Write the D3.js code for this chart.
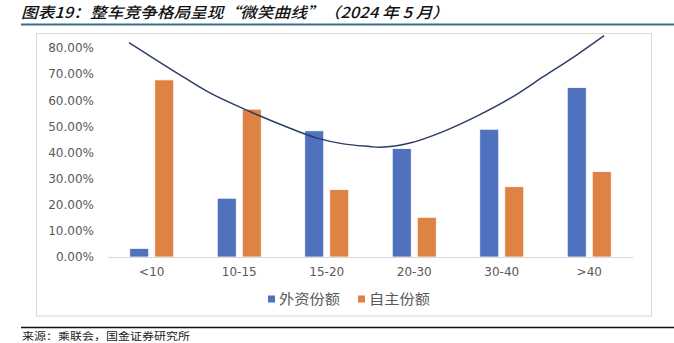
<!DOCTYPE html>
<html><head><meta charset="utf-8">
<script src="https://cdn.jsdelivr.net/npm/d3@7"></script>
<style>
html,body{margin:0;padding:0;background:#fff;overflow:hidden;}
svg{display:block;}
</style></head>
<body>
<svg id="c" width="674" height="343"></svg>
<script>
// ---- data ----
const categories = ["<10", "10-15", "15-20", "20-30", "30-40", ">40"];
const seriesNames = ["外资份额", "自主份额"];
const foreignShare = [0.033, 0.225, 0.483, 0.415, 0.489, 0.649];
const domesticShare = [0.678, 0.566, 0.258, 0.152, 0.269, 0.327];
const yTicks = [0, 0.1, 0.2, 0.3, 0.4, 0.5, 0.6, 0.7, 0.8];
// "smile curve" points: position in category index units, value
const curvePos = [-0.26, 0.29, 0.67, 1.12, 1.58, 1.89, 2.19, 2.49, 2.61, 2.95, 3.33, 3.71, 4.10, 4.48, 4.86, 5.17];
const curveVal = [0.821, 0.704, 0.627, 0.557, 0.493, 0.455, 0.433, 0.423, 0.420, 0.436, 0.480, 0.538, 0.608, 0.691, 0.774, 0.847];
const titleText = "图表19：整车竞争格局呈现“微笑曲线”（2024 年 5 月）";
const sourceText = "来源：乘联会，国金证券研究所";

const colors = ["#4f71be", "#df8344"];
const svg = d3.select("#c");

// title
svg.append("text").attr("x", 21).attr("y", 17.5)
  .attr("font-family", "'Noto Sans CJK SC', sans-serif")
  .attr("font-size", 15).attr("font-style", "italic").attr("font-weight", 500)
  .attr("fill", "#111").attr("textLength", 428).attr("lengthAdjust", "spacingAndGlyphs")
  .text(titleText);
svg.append("line").attr("x1", 21).attr("x2", 674).attr("y1", 24.5).attr("y2", 24.5)
  .attr("stroke", "#3b6e8e").attr("stroke-width", 2);

// chart frame
svg.append("rect").attr("x", 36.5).attr("y", 33.5).attr("width", 615).attr("height", 282.5)
  .attr("fill", "#fff").attr("stroke", "#d9d9d9").attr("stroke-width", 1);

// scales
const x0 = d3.scaleBand().domain(categories).range([108, 633]).paddingInner(0.497).paddingOuter(0.2485);
const x1 = d3.scaleBand().domain(seriesNames).range([0, x0.bandwidth()]).paddingInner(0.24);
const y = d3.scaleLinear().domain([0, 0.8]).range([257, 48]);
const xc = d3.scaleLinear().domain([0, categories.length - 1])
  .range([x0(categories[0]) + x0.bandwidth() / 2, x0(categories[categories.length - 1]) + x0.bandwidth() / 2]);

// y axis labels
const yAxis = d3.axisLeft(y).tickValues(yTicks).tickFormat(d3.format(".2%")).tickSize(0).tickPadding(0);
const gy = svg.append("g").attr("transform", "translate(94,0)").call(yAxis);
gy.select(".domain").remove();
gy.selectAll("text").attr("font-family", "'DejaVu Sans', sans-serif").attr("font-size", 12).attr("fill", "#595959");

// bars
const series = [foreignShare, domesticShare];
series.forEach((vals, si) => {
  svg.append("g").selectAll("rect").data(vals).join("rect")
    .attr("x", (d, i) => x0(categories[i]) + x1(seriesNames[si]))
    .attr("y", d => y(d))
    .attr("width", x1.bandwidth())
    .attr("height", d => y(0) - y(d))
    .attr("fill", colors[si])
    .attr("stroke", "#fff").attr("stroke-width", 0.8);
});

// x axis
const xAxis = d3.axisBottom(x0).tickSize(0).tickPadding(10);
const gx = svg.append("g").attr("transform", `translate(0,${y(0)})`).call(xAxis);
gx.select(".domain").attr("stroke", "#d9d9d9").attr("stroke-width", 1);
gx.selectAll("text").attr("font-family", "'DejaVu Sans', sans-serif").attr("font-size", 12).attr("fill", "#595959");

// smile curve
const line = d3.line().x((d, i) => xc(curvePos[i])).y(d => y(d)).curve(d3.curveCatmullRom.alpha(0.5));
svg.append("path").attr("d", line(curveVal)).attr("fill", "none")
  .attr("stroke", "#2d3d68").attr("stroke-width", 1.5);

// legend
const legX = [268, 358];
seriesNames.forEach((n, i) => {
  svg.append("rect").attr("x", legX[i]).attr("y", 295.5).attr("width", 7).attr("height", 7).attr("fill", colors[i]);
  svg.append("text").attr("x", legX[i] + 11).attr("y", 304)
    .attr("font-family", "'Noto Sans CJK SC', sans-serif").attr("font-size", 14)
    .attr("fill", "#595959").attr("textLength", 61).attr("lengthAdjust", "spacingAndGlyphs").text(n);
});

// footer
svg.append("line").attr("x1", 21).attr("x2", 674).attr("y1", 327.5).attr("y2", 327.5)
  .attr("stroke", "#111").attr("stroke-width", 1.5);
svg.append("text").attr("x", 22).attr("y", 340)
  .attr("font-family", "'Noto Sans CJK SC', sans-serif").attr("font-size", 10)
  .attr("fill", "#222").attr("textLength", 168).attr("lengthAdjust", "spacingAndGlyphs").text(sourceText);
</script>
</body></html>
